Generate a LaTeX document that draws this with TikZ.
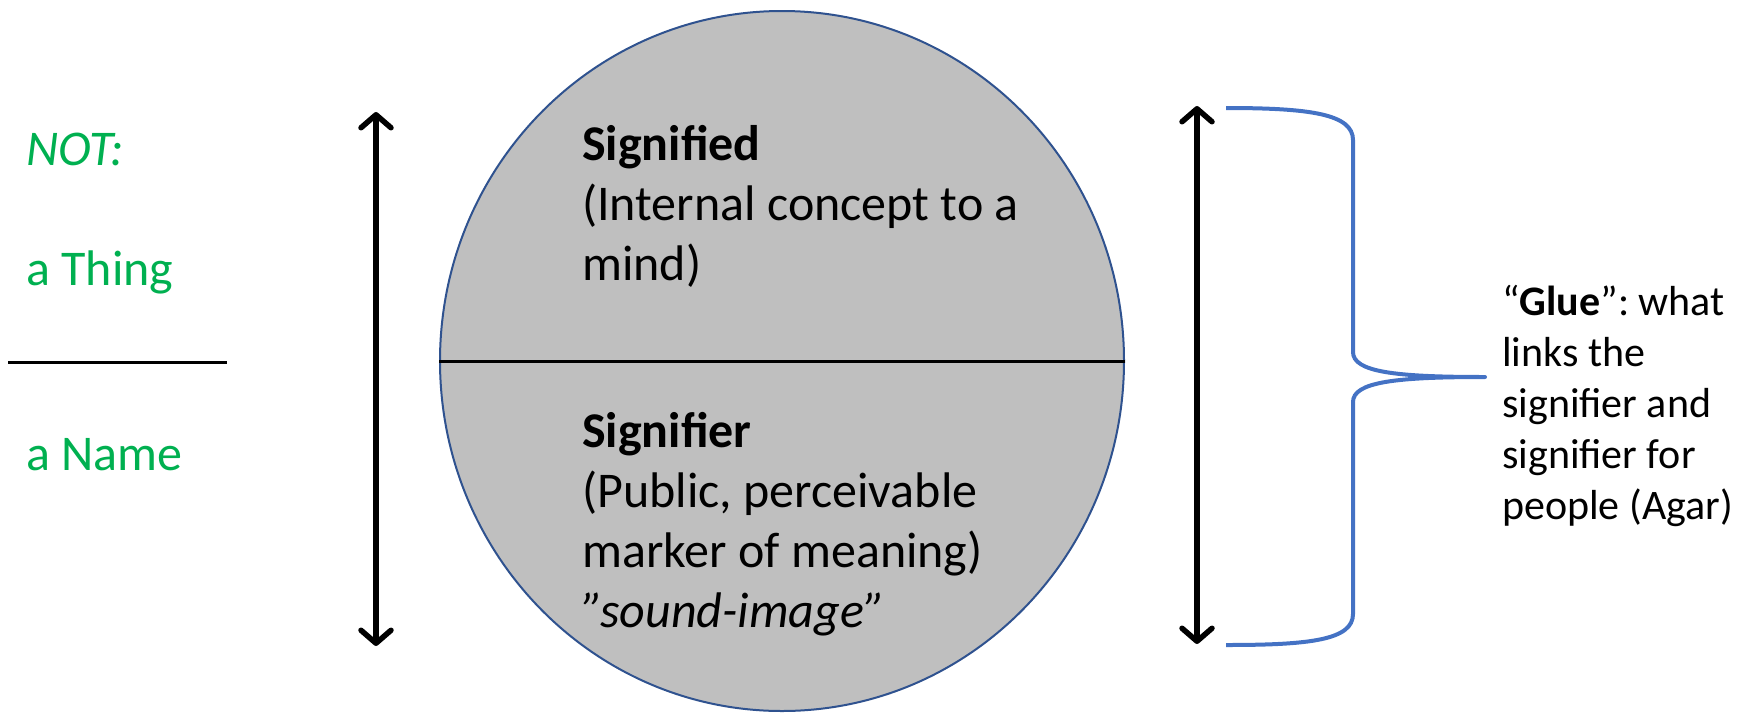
\documentclass[tikz,border=0pt]{standalone}
\usepackage{fontspec}
\setmainfont{Carlito}
\usetikzlibrary{arrows.meta,shapes.geometric}
\definecolor{greentxt}{RGB}{0,176,80}
\definecolor{bracecol}{RGB}{68,114,196}
\definecolor{circedge}{RGB}{47,82,143}
\definecolor{circfill}{RGB}{191,191,191}
\tikzset{
  bigtxt/.style={anchor=base west, inner sep=0pt, font=\fontsize{50}{60}\selectfont},
  greenlbl/.style={bigtxt, text=greentxt},
  gluetxt/.style={anchor=base west, inner sep=0pt, font=\fontsize{42}{51}\selectfont},
  dblarrow/.style={line width=5.5pt, {Straight Barb[length=13pt,width=30pt,line cap=round,line join=round]}-{Straight Barb[length=13pt,width=30pt,line cap=round,line join=round]}},
  bracestyle/.style={draw=bracecol, line width=4pt}
}
\frenchspacing
\begin{document}
\begin{tikzpicture}[x=1pt,y=-1pt]
\useasboundingbox (0,0) rectangle (1743,713);
% circle
\node (sign) [draw=circedge, fill=circfill, line width=2pt, ellipse, minimum width=684pt, minimum height=700pt, inner sep=0pt] at (782,361) {};
\draw[line width=3pt] (sign.west) -- (sign.east);
% circle text
\node (t1) [bigtxt] at (582,160) {\textbf{Signified}};
\node (t2) [bigtxt] at (582,220) {(Internal concept to a};
\node (t3) [bigtxt] at (582,280) {mind)};
\node (t4) [bigtxt] at (582,447) {\textbf{Signifier}};
\node (t5) [bigtxt] at (582,507) {(Public, perceivable};
\node (t6) [bigtxt] at (582,567) {marker of meaning)};
\node (t7) [bigtxt] at (582,627) {\textit{”sound-image”}};
% left green text
\node (g1) [greenlbl] at (26,165) {\textit{NOT:}};
\node (g2) [greenlbl] at (26,285) {a Thing};
\node (g3) [greenlbl] at (26,470) {a Name};
\coordinate (la) at (8,362);
\coordinate (lb) at (227,362);
\draw[line width=3pt] (la) -- (lb);
% arrows
\coordinate (a1t) at (376,112);
\coordinate (a1b) at (376,646);
\draw[dblarrow] (a1b) -- (a1t);
\coordinate (a2t) at (1197,106);
\coordinate (a2b) at (1197,644);
\draw[dblarrow] (a2b) -- (a2t);
% brace
\coordinate (bt) at (1226,108);
\coordinate (bb) at (1226,645);
\coordinate (tip) at (1485,377);
\draw[bracestyle, line join=round] (bt) .. controls (1310,108) and (1353,114) .. (1353,140)
  -- (1353,352) .. controls (1353,372) and (1395,377) .. (tip)
  .. controls (1395,377) and (1353,382) .. (1353,402)
  -- (1353,614) .. controls (1353,640) and (1310,645) .. (bb);
% glue text
\node (r1) [gluetxt] at (1502,315) {“\textbf{Glue}”: what};
\node (r2) [gluetxt] at (1502,366) {links the};
\node (r3) [gluetxt] at (1502,417) {signifier and};
\node (r4) [gluetxt] at (1502,468) {signifier for};
\node (r5) [gluetxt] at (1502,519) {people (Agar)};
\end{tikzpicture}
\end{document}
